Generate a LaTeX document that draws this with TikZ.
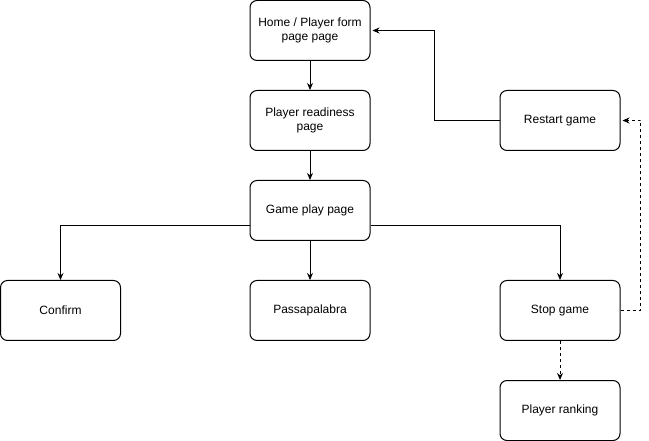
\documentclass[tikz,border=0pt]{standalone}
\usepackage{fontspec}
\setmainfont{Liberation Sans}
\usetikzlibrary{arrows.meta}
\begin{document}
\begin{tikzpicture}[x=1pt,y=-1pt,
  box/.style={draw,line width=1pt,rounded corners=7pt,minimum width=120pt,minimum height=60pt,inner sep=0pt,align=center,font=\fontsize{12}{14}\selectfont},
  arr/.style={line width=1pt,-{Stealth[length=7pt,width=6pt]}},
  dsh/.style={dash pattern=on 3pt off 3pt}]
\useasboundingbox (0,0) rectangle (649,441);
\node[box] (home) at (310,30.5) {Home / Player form\\page page};
\node[box] (ready) at (310,120.5) {Player readiness\\page};
\node[box] (game) at (310,210.5) {Game play page};
\node[box] (confirm) at (60.5,310.5) {Confirm};
\node[box] (passa) at (310,310.5) {Passapalabra};
\node[box] (stop) at (560,310.5) {Stop game};
\node[box] (rank) at (560,410.5) {Player ranking};
\node[box] (restart) at (560,120.5) {Restart game};
\draw[arr] (home) -- (ready);
\draw[arr] (ready) -- (game);
\draw[arr] ([yshift=-15pt]game.west) -| (confirm.north);
\draw[arr] (game) -- (passa);
\draw[arr] ([yshift=-15pt]game.east) -| (stop.north);
\draw[arr,dsh] (stop) -- (rank);
\draw[arr,dsh] (stop.east) -- ++(20,0) |- ([xshift=2pt]restart.east);
\draw[arr] (restart.west) -- ++(-65,0) |- ([xshift=2pt]home.east);
\end{tikzpicture}
\end{document}
